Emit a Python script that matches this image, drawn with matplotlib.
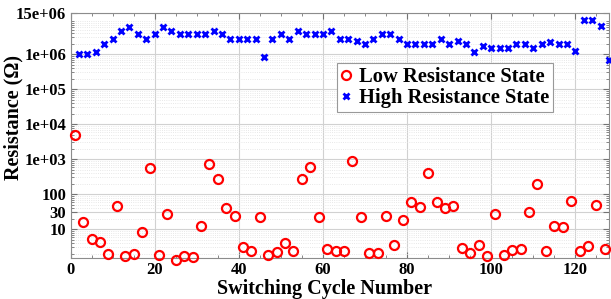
import numpy as np
import matplotlib
matplotlib.use("Agg")
import matplotlib.pyplot as plt
from matplotlib.ticker import FixedLocator, LogLocator, NullFormatter

# cycle numbers: LRS read on odd cycles, HRS on even cycles
lrs_cycles = np.arange(1, 128, 2)
hrs_cycles = np.arange(2, 129, 2)

lrs_values = [4900, 15.6, 5.3, 4.2, 1.95, 45, 1.75, 1.95, 8.5, 546,
              1.86, 27, 1.35, 1.75, 1.56, 12.6, 730, 265, 40, 24,
              3.2, 2.43, 21.7, 1.86, 2.19, 4.1, 2.32, 265, 583, 22.8,
              2.8, 2.43, 2.43, 865, 22.8, 2.09, 2.09, 23.2, 3.54, 18.7,
              60, 42, 403, 58, 41, 45, 2.83, 2.09, 3.6, 1.67,
              27, 1.78, 2.55, 2.72, 31.6, 195, 2.43, 12.6, 11.6, 62,
              2.43, 3.38, 49, 2.65]

hrs_values = [1.0e6, 1.0e6, 1.12e6, 1.9e6, 2.8e6, 4.7e6, 5.9e6, 3.8e6, 2.8e6, 3.8e6,
              5.9e6, 4.7e6, 3.8e6, 3.8e6, 3.8e6, 3.8e6, 4.7e6, 3.8e6, 2.8e6, 2.8e6,
              2.8e6, 2.8e6, 8.5e5, 2.8e6, 3.8e6, 2.8e6, 4.7e6, 3.8e6, 3.8e6, 3.8e6,
              4.7e6, 2.8e6, 2.8e6, 2.45e6, 1.9e6, 2.8e6, 3.8e6, 3.8e6, 2.8e6, 1.9e6,
              1.9e6, 1.9e6, 1.9e6, 2.8e6, 1.9e6, 2.45e6, 1.9e6, 1.12e6, 1.7e6, 1.48e6,
              1.48e6, 1.48e6, 1.9e6, 1.9e6, 1.48e6, 1.9e6, 2.24e6, 1.9e6, 1.9e6, 1.23e6,
              9.5e6, 9.5e6, 6.5e6, 6.8e5]

ytick_vals = [10, 30, 100, 1e3, 1e4, 1e5, 1e6, 1.5e7]
ytick_labels = ["10", "30", "100", "1e+03", "1e+04", "1e+05", "1e+06", "15e+06"]
xtick_vals = [0, 20, 40, 60, 80, 100, 120]

plt.rcParams['font.family'] = ['Liberation Serif', 'DejaVu Serif']
plt.rcParams['font.weight'] = 'bold'
plt.rcParams['font.size'] = 12

fig = plt.figure(figsize=(6.11, 2.99), dpi=100)
ax = fig.add_axes([0.1154, 0.137, 0.8813, 0.8195])

ax.plot(lrs_cycles, lrs_values, linestyle='none', marker='o', markersize=6.5,
        markerfacecolor='none', markeredgecolor='red', markeredgewidth=1.6,
        label='Low Resistance State', clip_on=False, zorder=3)
ax.plot(hrs_cycles, hrs_values, linestyle='none', marker='x', markersize=5,
        color='blue', markeredgewidth=2, label='High Resistance State',
        clip_on=False, zorder=3)

ax.set_yscale('log')
ax.set_xlim(0, 128)
ax.set_ylim(1.5, 1.5e7)

ax.set_xticks(xtick_vals)
ax.xaxis.set_minor_locator(FixedLocator(np.arange(5, 128, 5)))
ax.yaxis.set_major_locator(FixedLocator(ytick_vals))
ax.set_yticklabels(ytick_labels)
ax.yaxis.set_minor_locator(LogLocator(base=10, subs=np.arange(2, 10)))
ax.yaxis.set_minor_formatter(NullFormatter())

for lab in ax.get_xticklabels() + ax.get_yticklabels():
    lab.set_fontweight('bold')

ax.tick_params(which='both', direction='in', top=True, right=True, color='0.45')
ax.tick_params(which='major', length=4, pad=3)
ax.tick_params(which='minor', length=2)

ax.grid(True, which='major', color='0.82', linewidth=0.8)
ax.grid(True, which='minor', axis='y', color='0.88', linestyle=':', linewidth=0.6)
ax.set_axisbelow(True)

for sp in ax.spines.values():
    sp.set_color('0.55')
    sp.set_linewidth(0.8)

ax.set_xlabel('Switching Cycle Number', fontweight='bold', fontsize=14.5)
ax.xaxis.set_label_coords(0.4726, -0.085)
ax.set_ylabel('Resistance (\u03a9)', fontweight='bold', fontsize=14.5)
ax.yaxis.set_label_coords(-0.087, 0.573)

leg = ax.legend(loc='upper left', bbox_to_anchor=(0.495, 0.795), fancybox=False,
                framealpha=1, edgecolor='0.6', handletextpad=0.35,
                borderpad=0.2, labelspacing=0.05, handlelength=0.5,
                borderaxespad=0, prop={'weight': 'bold', 'size': 14.8})
leg.get_frame().set_linewidth(0.8)

fig.savefig('out.png', dpi=100)
